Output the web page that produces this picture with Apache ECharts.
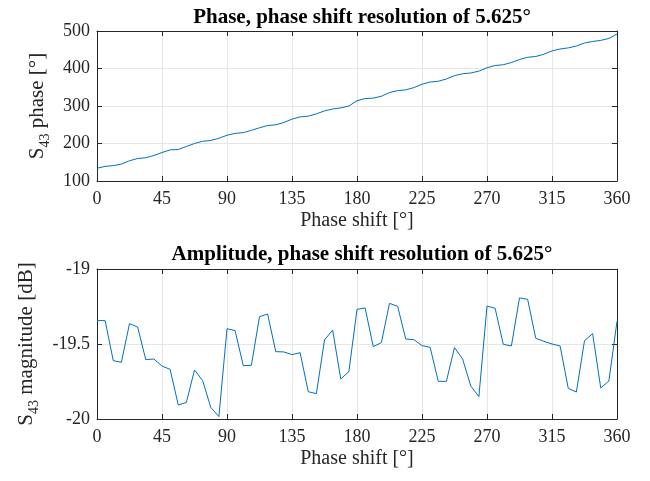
<!DOCTYPE html>
<html><head><meta charset="utf-8">
<script src="https://cdn.jsdelivr.net/npm/echarts@6/dist/echarts.min.js"></script>
<style>html,body{margin:0;padding:0;background:#fff}#c{width:650px;height:481px}</style>
</head><body><div id="c"></div>
<script>
// phase shift step 5.625 deg, 65 points 0..360
const phaseShift = Array.from({length: 65}, (_, i) => i * 5.625);
const phaseValues = [134,139,141,145,154,160,162,168,176,183,184,192,200,206,208,214,
  222,227,229,235,242,248,250,256,265,271,273,279,287,292,295,300,
  314,320,321,326,336,341,343,349,358,364,366,372,381,386,388,393,
  402,408,410,416,424,430,432,438,447,452,455,460,468,472,475,480,492];
const ampValues = [-19.344,-19.344,-19.611,-19.622,-19.364,-19.387,-19.604,-19.600,
  -19.647,-19.669,-19.907,-19.889,-19.673,-19.744,-19.922,-19.984,
  -19.398,-19.411,-19.644,-19.642,-19.318,-19.300,-19.551,-19.553,
  -19.571,-19.558,-19.818,-19.831,-19.473,-19.407,-19.733,-19.684,
  -19.269,-19.260,-19.518,-19.491,-19.229,-19.249,-19.467,-19.471,
  -19.511,-19.522,-19.749,-19.749,-19.524,-19.600,-19.780,-19.851,
  -19.247,-19.262,-19.502,-19.513,-19.193,-19.202,-19.462,-19.482,
  -19.500,-19.513,-19.796,-19.820,-19.478,-19.431,-19.793,-19.747,-19.349];
const xTicks = [0,45,90,135,180,225,270,315,360];
const phaseTicks = [100,200,300,400,500];
const ampTickLabels = {'-19':'-19','-19.5':'-19.5','-20':'-20'};

const FONT = 'Liberation Serif';
const AX = '#262626';
const GRIDC = '#e6e6e6';
const lbl = {color: AX, fontFamily: FONT, fontSize: 18};
const nameStyle = {color: AX, fontFamily: FONT, fontSize: 20};

function mainX(gi, name) {
  return {type:'value', gridIndex: gi, min: 0, max: 360, interval: 45,
    axisLine:{show:true, onZero:false, lineStyle:{color:AX, width:1}},
    axisTick:{inside:true, length:5, lineStyle:{color:AX}},
    axisLabel:Object.assign({margin:9}, lbl),
    splitLine:{show:true, lineStyle:{color:GRIDC, width:1}},
    name: name, nameLocation:'middle', nameGap: 30,
    nameTextStyle: Object.assign({}, nameStyle)};
}
function boxX(gi) {
  return {type:'value', gridIndex: gi, position:'top', min:0, max:360, interval:45,
    axisLine:{show:true, onZero:false, lineStyle:{color:AX, width:1}},
    axisTick:{inside:true, length:5, lineStyle:{color:AX}},
    axisLabel:{show:false}, splitLine:{show:false}};
}
function mainY(gi, min, max, interval, nameParts, fmt, gap) {
  return {type:'value', gridIndex: gi, min, max, interval,
    axisLine:{show:true, onZero:false, lineStyle:{color:AX, width:1}},
    axisTick:{inside:true, length:5, lineStyle:{color:AX}},
    axisLabel:Object.assign({margin:7, formatter: fmt}, lbl),
    splitLine:{show:true, lineStyle:{color:GRIDC, width:1}},
    name: nameParts, nameLocation:'middle', nameGap: gap, nameRotate: 90,
    nameTextStyle: Object.assign({}, nameStyle, {rich:{
      n:{fontFamily:FONT, fontSize:21, color:AX, lineHeight:30, verticalAlign:'middle'},
      s:{fontFamily:FONT, fontSize:14, color:AX, lineHeight:12, verticalAlign:'bottom'}
    }})};
}
function boxY(gi, min, max, interval) {
  return {type:'value', gridIndex: gi, position:'right', min, max, interval,
    axisLine:{show:true, onZero:false, lineStyle:{color:AX, width:1}},
    axisTick:{inside:true, length:5, lineStyle:{color:AX}},
    axisLabel:{show:false}, splitLine:{show:false}};
}

const chart = echarts.init(document.getElementById('c'), null, {renderer:'canvas'});
chart.setOption({
  animation:false,
  backgroundColor:'#fff',
  title:[
    {text:'Phase, phase shift resolution of 5.625°', left:357, top:2, textAlign:'center',
     textStyle:{fontFamily:FONT, fontSize:21, fontWeight:'bold', color:'#000'}},
    {text:'Amplitude, phase shift resolution of 5.625°', left:357, top:239, textAlign:'center',
     textStyle:{fontFamily:FONT, fontSize:21, fontWeight:'bold', color:'#000'}}
  ],
  grid:[
    {left:97, right:33, top:31, height:150},
    {left:97, right:33, top:269, height:150}
  ],
  xAxis:[mainX(0,'Phase shift [°]'), boxX(0), mainX(1,'Phase shift [°]'), boxX(1)],
  yAxis:[
    mainY(0,100,500,100,'{n|S}{s|43}{n| phase [°]}', v => String(v), 44),
    boxY(0,100,500,100),
    mainY(1,-20,-19,0.5,'{n|S}{s|43}{n| magnitude [dB]}', v => ampTickLabels[String(v)] || String(v), 54),
    boxY(1,-20,-19,0.5)
  ],
  series:[
    {type:'line', xAxisIndex:0, yAxisIndex:0, showSymbol:false, symbol:'none',
     data: phaseShift.map((x,i)=>[x, phaseValues[i]]), lineStyle:{color:'#0072BD', width:1}},
    {type:'line', xAxisIndex:2, yAxisIndex:2, showSymbol:false, symbol:'none',
     data: phaseShift.map((x,i)=>[x, ampValues[i]]), lineStyle:{color:'#0072BD', width:1}}
  ]
});
</script></body></html>
